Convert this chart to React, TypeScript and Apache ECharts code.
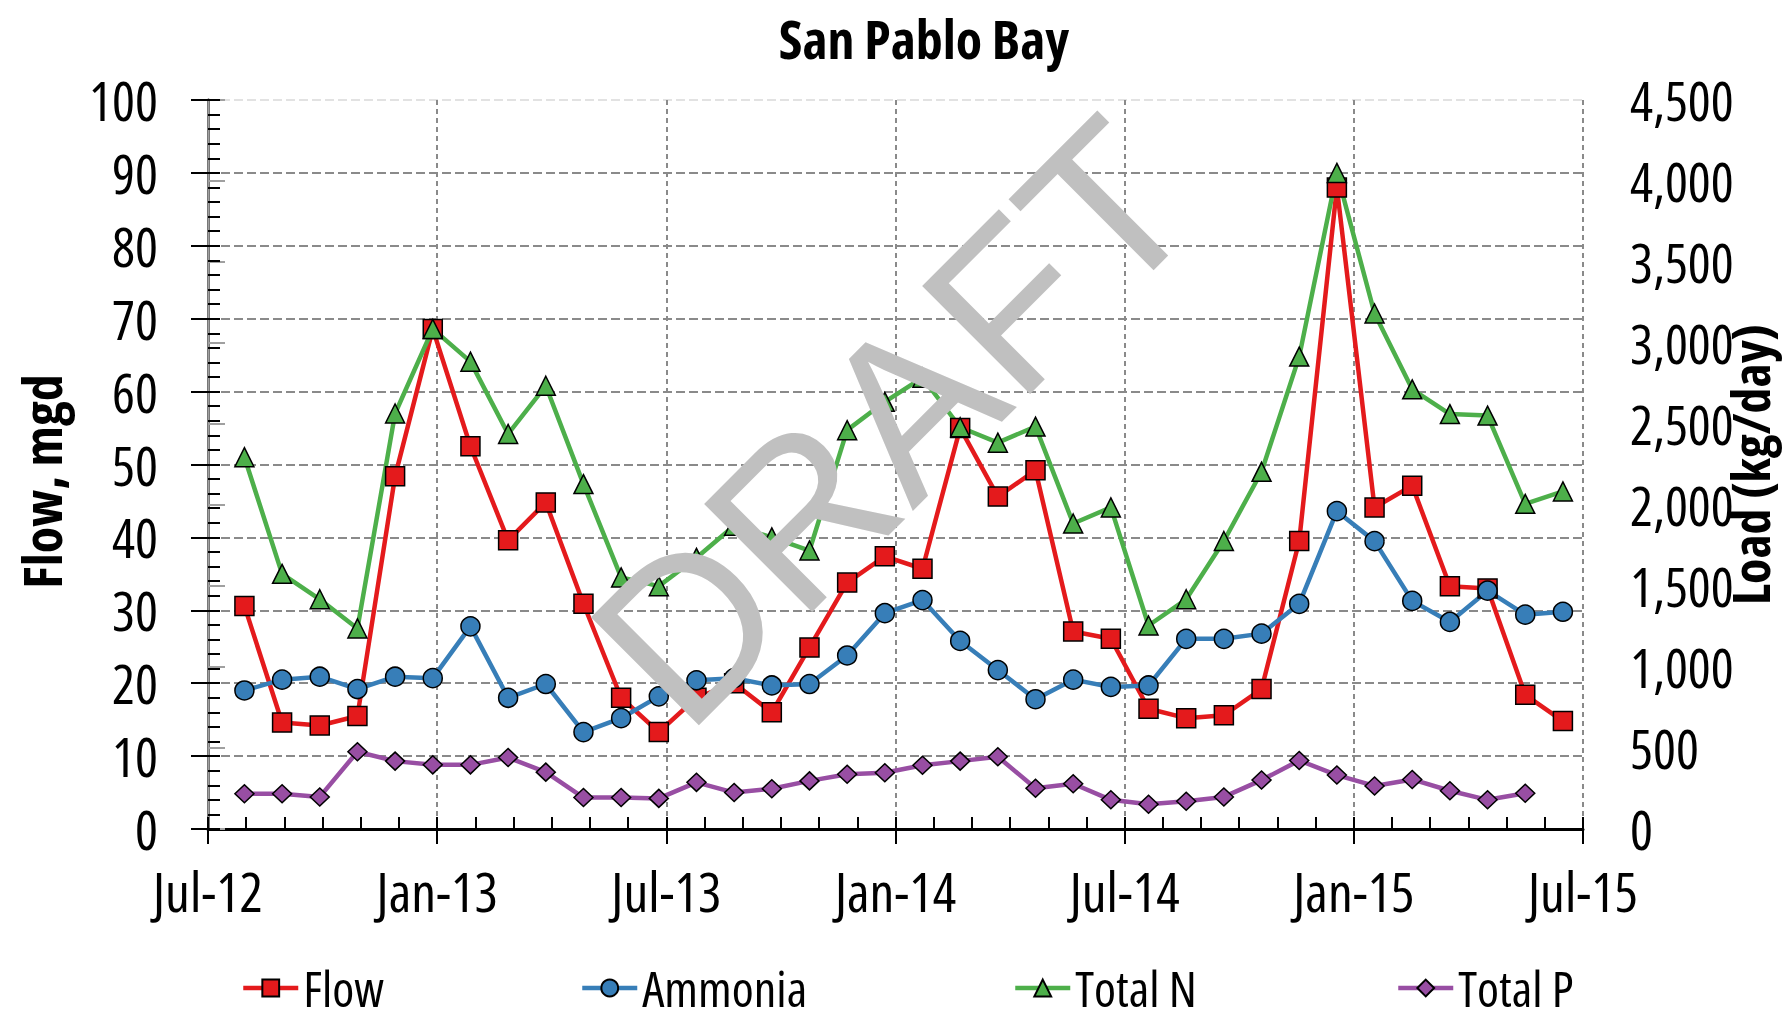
import React, { useEffect, useRef } from 'react';
import * as echarts from 'echarts';

// Sample dates (monthly samples)
const sampleDates = [
  '2012-07-30', '2012-08-29', '2012-09-28', '2012-10-28', '2012-11-27', '2012-12-27',
  '2013-01-26', '2013-02-25', '2013-03-27', '2013-04-26', '2013-05-26', '2013-06-25',
  '2013-07-25', '2013-08-24', '2013-09-23', '2013-10-23', '2013-11-22', '2013-12-22',
  '2014-01-21', '2014-02-20', '2014-03-22', '2014-04-21', '2014-05-21', '2014-06-20',
  '2014-07-20', '2014-08-19', '2014-09-18', '2014-10-18', '2014-11-17', '2014-12-17',
  '2015-01-16', '2015-02-15', '2015-03-17', '2015-04-16', '2015-05-16', '2015-06-15',
];

// Flow, mgd (left axis)
const flow = [
  30.6, 14.6, 14.2, 15.5, 48.4, 68.6, 52.5, 39.6, 44.8, 30.9, 18.0, 13.3,
  18.0, 20.0, 16.0, 24.9, 33.8, 37.4, 35.7, 55.0, 45.6, 49.2, 27.1, 26.1,
  16.5, 15.2, 15.6, 19.2, 39.5, 88.0, 44.1, 47.1, 33.3, 33.0, 18.4, 14.8,
];

// Loads, kg/day (right axis)
const ammonia = [
  855, 922, 940, 864, 940, 931, 1251, 810, 895, 598, 684, 819,
  918, 931, 886, 895, 1071, 1332, 1413, 1161, 981, 801, 922, 877,
  886, 1174, 1174, 1206, 1390, 1962, 1777, 1408, 1278, 1471, 1323, 1341,
];

const totalN = [
  2295, 1575, 1418, 1238, 2565, 3087, 2885, 2439, 2736, 2129, 1553, 1499,
  1674, 1872, 1800, 1719, 2462, 2637, 2786, 2480, 2385, 2484, 1886, 1985,
  1256, 1418, 1778, 2205, 2916, 4050, 3182, 2714, 2561, 2552, 2007, 2084,
];

const totalP = [
  218, 218, 198, 477, 419, 396, 396, 441, 351, 194, 194, 189,
  288, 225, 248, 297, 338, 347, 394, 419, 446, 252, 279, 180,
  153, 171, 198, 302, 423, 333, 266, 306, 236, 180, 221, null,
];

const seriesNames = ['Flow', 'Ammonia', 'Total N', 'Total P'];
const seriesColors = ['#e41a1c', '#377eb8', '#4daf4a', '#984ea3'];

const axisStart = '2012-07-01';
const axisEnd = '2015-07-01';
const xTickLabels = ['Jul-12', 'Jan-13', 'Jul-13', 'Jan-14', 'Jul-14', 'Jan-15', 'Jul-15'];

const FONT = '"Open Sans", "Liberation Sans", Arial, sans-serif';
const STRETCH = 'condensed';

const dayOf = (s: string) =>
  (Date.parse(s + 'T00:00:00Z') - Date.parse(axisStart + 'T00:00:00Z')) / 86400000;

export default function App() {
  const ref = useRef<HTMLDivElement>(null);

  useEffect(() => {
    if (!ref.current) return;
    const chart = echarts.init(ref.current, undefined, { renderer: 'svg' });
    const span = dayOf(axisEnd);
    const major = span / 6;
    const minor = span / 36;
    const pair = (vals: (number | null)[]) =>
      vals.map((v, i) => [dayOf(sampleDates[i]), v]);

    const marker = { borderColor: '#000', borderWidth: 1.5 };
    const legendLefts = [236, 575, 1008, 1391];
    const legendText = { fontFamily: FONT, fontStyle: STRETCH, fontSize: 50, color: '#000', padding: [0, 0, 0, 0] };

    const option: any = {
      animation: false,
      backgroundColor: '#fff',
      title: {
        text: 'San Pablo Bay',
        left: 919,
        textAlign: 'center',
        top: 6,
        textStyle: { fontFamily: FONT, fontStyle: STRETCH, fontWeight: 'bold', fontSize: 54, color: '#000' },
      },
      legend: seriesNames.map((n, i) => ({
        data: [n],
        left: legendLefts[i],
        top: 958,
        itemWidth: 55,
        itemHeight: 21,
        lineStyle: { width: 4.5 },
        textStyle: legendText,
      })),
      grid: { left: 208, right: 200, top: 100, bottom: 195, containLabel: false, outerBoundsMode: 'none' },
      xAxis: [
        {
          type: 'value',
          min: 0,
          max: span,
          interval: major,
          position: 'bottom',
          axisLine: { show: true, lineStyle: { color: '#000', width: 3 } },
          axisTick: { show: true, inside: false, length: 15, lineStyle: { color: '#000', width: 2 } },
          axisLabel: {
            margin: 34,
            fontFamily: FONT,
            fontStyle: STRETCH,
            fontSize: 55,
            color: '#000',
            formatter: (v: number) => xTickLabels[Math.round(v / major)] ?? '',
          },
          splitLine: {
            show: true,
            lineStyle: { color: '#8a8a8a', width: 2, type: [5, 4] },
          },
        },
        {
          type: 'value',
          min: 0,
          max: span,
          interval: minor,
          position: 'bottom',
          axisLine: { show: false },
          axisTick: { show: true, inside: true, length: 12, lineStyle: { color: '#000', width: 2 } },
          axisLabel: { show: false },
          splitLine: { show: false },
        },
      ],
      yAxis: [
        {
          type: 'value',
          position: 'left',
          min: 0,
          max: 100,
          interval: 10,
          name: 'Flow, mgd',
          nameLocation: 'middle',
          nameRotate: 90,
          nameGap: 140,
          nameMoveOverlap: false,
          nameTextStyle: {
            fontFamily: FONT, fontStyle: STRETCH, fontWeight: 'bold', fontSize: 54, color: '#000',
            padding: [0, 34, 0, 0],
          },
          axisLine: { show: true, lineStyle: { color: '#000', width: 3 } },
          axisTick: { show: true, inside: false, length: 17, lineStyle: { color: '#000', width: 2 } },
          axisLabel: { margin: 50, fontFamily: FONT, fontStyle: STRETCH, fontSize: 54, color: '#000' },
          splitLine: {
            show: true,
            lineStyle: {
              color: ['#8a8a8a', '#8a8a8a', '#8a8a8a', '#8a8a8a', '#8a8a8a', '#8a8a8a',
                '#8a8a8a', '#8a8a8a', '#8a8a8a', '#8a8a8a', '#e2e2e2'],
              width: 2,
              type: [9, 4],
            },
          },
        },
        {
          type: 'value',
          position: 'right',
          min: 0,
          max: 4500,
          interval: 500,
          name: 'Load (kg/day)',
          nameLocation: 'middle',
          nameRotate: 90,
          nameGap: 140,
          nameMoveOverlap: false,
          nameTextStyle: { fontFamily: FONT, fontStyle: STRETCH, fontWeight: 'bold', fontSize: 52, color: '#000' },
          axisLine: { show: true, lineStyle: { color: '#a0a0a0', width: 2.5 } },
          axisTick: { show: true, inside: false, length: 17, lineStyle: { color: '#a0a0a0', width: 2 } },
          axisLabel: {
            margin: 47,
            fontFamily: FONT,
            fontStyle: STRETCH,
            fontSize: 54,
            color: '#000',
            formatter: (v: number) => v.toLocaleString('en-US'),
          },
          splitLine: { show: false },
        },
        {
          type: 'value',
          position: 'left',
          min: 0,
          max: 100,
          interval: 2,
          axisLine: { show: false },
          axisTick: { show: true, inside: true, length: 12, lineStyle: { color: '#000', width: 2 } },
          axisLabel: { show: false },
          splitLine: { show: false },
        },
      ],
      series: [
        {
          name: seriesNames[0],
          type: 'line',
          xAxisIndex: 0,
          yAxisIndex: 0,
          data: pair(flow),
          symbol: 'rect',
          symbolSize: 19,
          lineStyle: { color: seriesColors[0], width: 4.5 },
          itemStyle: { color: seriesColors[0], ...marker },
        },
        {
          name: seriesNames[1],
          type: 'line',
          xAxisIndex: 0,
          yAxisIndex: 1,
          data: pair(ammonia),
          symbol: 'circle',
          symbolSize: 19,
          lineStyle: { color: seriesColors[1], width: 4.5 },
          itemStyle: { color: seriesColors[1], ...marker },
        },
        {
          name: seriesNames[2],
          type: 'line',
          xAxisIndex: 0,
          yAxisIndex: 1,
          data: pair(totalN),
          symbol: 'triangle',
          symbolSize: 19,
          lineStyle: { color: seriesColors[2], width: 4.5 },
          itemStyle: { color: seriesColors[2], ...marker },
        },
        {
          name: seriesNames[3],
          type: 'line',
          xAxisIndex: 0,
          yAxisIndex: 1,
          data: pair(totalP),
          symbol: 'diamond',
          symbolSize: [19, 18],
          lineStyle: { color: seriesColors[3], width: 4.5 },
          itemStyle: { color: seriesColors[3], ...marker },
        },
      ],
      graphic: [
        {
          type: 'text',
          x: 893,
          y: 422,
          rotation: Math.PI / 4,
          z: 100,
          silent: true,
          style: {
            text: 'DRAFT',
            font: '222px "Liberation Sans", Arial, sans-serif',
            fill: '#c0c0c0',
            align: 'center',
            verticalAlign: 'middle',
          },
        },
      ],
    };

    chart.setOption(option);
    return () => chart.dispose();
  }, []);

  return (
    <>
      <style>{'#root svg text { font-stretch: 75% !important; }'}</style>
      <div
        ref={ref}
        style={{ position: 'fixed', left: 0, top: 0, width: 1783, height: 1024 }}
      />
    </>
  );
}
